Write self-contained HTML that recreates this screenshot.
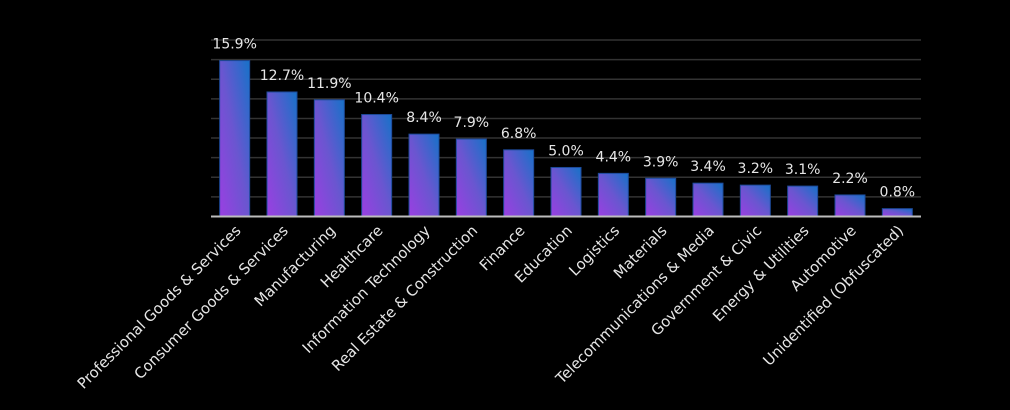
<!DOCTYPE html>
<html><head><meta charset="utf-8"><style>
html,body{margin:0;padding:0;background:#000;}
svg{display:block;font-family:"DejaVu Sans","Liberation Sans",sans-serif;}
</style></head><body>
<svg id="chart" width="1010" height="410" viewBox="0 0 1010 410" xmlns="http://www.w3.org/2000/svg">
<defs>
<linearGradient id="bg" x1="0" y1="1" x2="1" y2="0">
<stop offset="0" stop-color="#9a3fe2"/><stop offset="0.5" stop-color="#6a56d0"/><stop offset="1" stop-color="#1672c8"/>
</linearGradient>
</defs>
<g id="grid"></g>
<g id="bars"></g>
<g id="labels"></g>
</svg>
<script>
const categories = ["Professional Goods & Services","Consumer Goods & Services","Manufacturing","Healthcare","Information Technology","Real Estate & Construction","Finance","Education","Logistics","Materials","Telecommunications & Media","Government & Civic","Energy & Utilities","Automotive","Unidentified (Obfuscated)"];
const values = [15.9,12.7,11.9,10.4,8.4,7.9,6.8,5.0,4.4,3.9,3.4,3.2,3.1,2.2,0.8];
const valueLabels = ["15.9%","12.7%","11.9%","10.4%","8.4%","7.9%","6.8%","5.0%","4.4%","3.9%","3.4%","3.2%","3.1%","2.2%","0.8%"];
const gridTicks = [2,4,6,8,10,12,14,16,18];

const NS="http://www.w3.org/2000/svg";
const L=211,R=921,B=216.5,T=40,MAX=18;
const band=(R-L)/categories.length, bw=30;
const y=v=>B-(v/MAX)*(B-T);
const xc=i=>L+band*(i+0.5);
function mk(tag,attrs,parent){const e=document.createElementNS(NS,tag);for(const k in attrs)e.setAttribute(k,attrs[k]);parent.appendChild(e);return e;}
const grid=document.getElementById('grid'),bars=document.getElementById('bars'),labs=document.getElementById('labels');
gridTicks.forEach(t=>{
  const l=mk('line',{x1:L,x2:R,y1:y(t),y2:y(t),stroke:'#333','stroke-width':1.5},grid);
  
  
});
values.forEach((v,i)=>{
  const r=mk('rect',{x:xc(i)-bw/2,y:y(v),width:bw,height:B-y(v),fill:'url(#bg)',stroke:'#1e4a9a','stroke-width':1},bars);
  
  
  const t=mk('text',{x:xc(i),y:y(v)-12,'text-anchor':'middle',fill:'#e6e6e6','font-size':14},bars);
  t.textContent=valueLabels[i];
  
  
  const c=mk('text',{x:0,y:0,'text-anchor':'end',fill:'#e6e6e6','font-size':14.8,transform:`translate(${xc(i)+7},${B+15}) rotate(-45)`},labs);
  c.textContent=categories[i];
  
  
});
const ax=mk('line',{x1:L,x2:R,y1:B,y2:B,stroke:'#bdbdbd','stroke-width':2},bars);


</script>
</body></html>
